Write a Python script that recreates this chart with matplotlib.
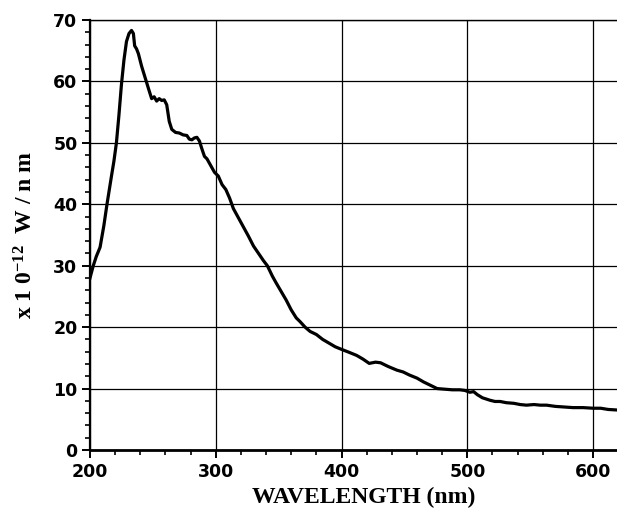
import matplotlib.pyplot as plt
from matplotlib.ticker import MultipleLocator

# spectral power readings, wavelength in nm and power in 1e-12 W/nm
wavelength = [200, 202.6, 205, 208, 211, 213.5, 217, 219, 221, 223, 225, 227, 229, 231,
              233, 234.5, 235.5, 237, 238.5, 241, 244, 247, 249, 251, 253, 255, 257, 259,
              261, 263, 265, 268, 271, 274, 277, 279, 281, 283, 285, 287, 289, 291, 293,
              296, 299, 302, 305, 308, 311, 314, 318, 322, 326, 330, 334, 338, 341, 345,
              348, 352, 356, 360, 364, 367, 371, 375, 380, 385, 390, 395, 401, 406, 412,
              417, 422, 427, 431, 437, 444, 449, 454, 460, 465, 470, 476, 482, 488, 494,
              498, 502, 505, 508, 512, 518, 522, 526, 531, 537, 542, 547, 553, 558, 563,
              570, 577, 584, 592, 600, 606, 612, 620]
power = [28.0, 30.0, 31.5, 33.0, 36.5, 40.0, 44.5, 47.0, 50.0, 54.5, 59.5, 63.5, 66.5, 67.8,
         68.3, 67.8, 65.8, 65.3, 64.5, 62.5, 60.5, 58.5, 57.2, 57.5, 56.8, 57.2, 56.9, 57.0,
         56.2, 53.5, 52.2, 51.7, 51.6, 51.3, 51.2, 50.6, 50.5, 50.8, 50.9, 50.3, 49.0, 47.8,
         47.4, 46.3, 45.2, 44.6, 43.2, 42.4, 41.0, 39.3, 37.8, 36.3, 34.8, 33.2, 32.0, 30.8,
         30.0, 28.3, 27.2, 25.8, 24.4, 22.8, 21.5, 20.9, 20.0, 19.3, 18.8, 18.0, 17.4, 16.8,
         16.3, 15.9, 15.4, 14.8, 14.1, 14.3, 14.2, 13.6, 13.0, 12.7, 12.2, 11.7, 11.1, 10.6,
         10.0, 9.9, 9.8, 9.8, 9.7, 9.4, 9.5, 9.0, 8.5, 8.1, 7.9, 7.9, 7.7, 7.6, 7.4, 7.3,
         7.4, 7.3, 7.3, 7.1, 7.0, 6.9, 6.9, 6.8, 6.8, 6.6, 6.5]

plt.rcParams['mathtext.fontset'] = 'custom'
plt.rcParams['mathtext.rm'] = 'Liberation Serif:bold'
plt.rcParams['mathtext.default'] = 'rm'

fig = plt.figure(figsize=(6.17, 5.11), dpi=100)
ax = fig.add_axes([90 / 617, 61 / 511, 527 / 617, 430 / 511])

ax.plot(wavelength, power, color='black', linewidth=2.3, solid_joinstyle='round')

ax.set_xlim(200, 619)
ax.set_ylim(0, 70)
ax.xaxis.set_major_locator(MultipleLocator(100))
ax.xaxis.set_minor_locator(MultipleLocator(20))
ax.yaxis.set_major_locator(MultipleLocator(10))
ax.yaxis.set_minor_locator(MultipleLocator(2))
ax.grid(True, which='major', color='black', linewidth=0.9)

ax.spines['right'].set_visible(False)
ax.spines['left'].set_linewidth(1.6)
ax.spines['bottom'].set_linewidth(2.0)
ax.spines['top'].set_linewidth(1.0)

ax.tick_params(which='major', direction='out', length=6, width=1.4, pad=3)
ax.tick_params(which='minor', direction='out', length=3.5, width=1.2)
for lbl in ax.get_xticklabels() + ax.get_yticklabels():
    lbl.set_fontfamily('DejaVu Sans')
    lbl.set_fontweight('heavy')
    lbl.set_fontsize(12.5)

ax.set_xlabel('WAVELENGTH (nm)', family='Liberation Serif', fontweight='bold',
              fontsize=17)
ax.xaxis.set_label_coords((364 - 90) / 527, -0.085)
ax.set_ylabel(r'x 1 0$^{-12}$  W / n m', family='Liberation Serif', fontweight='bold',
              fontsize=17)
ax.yaxis.set_label_coords(-0.1, 0.5)

fig.savefig('out.png', dpi=100)
